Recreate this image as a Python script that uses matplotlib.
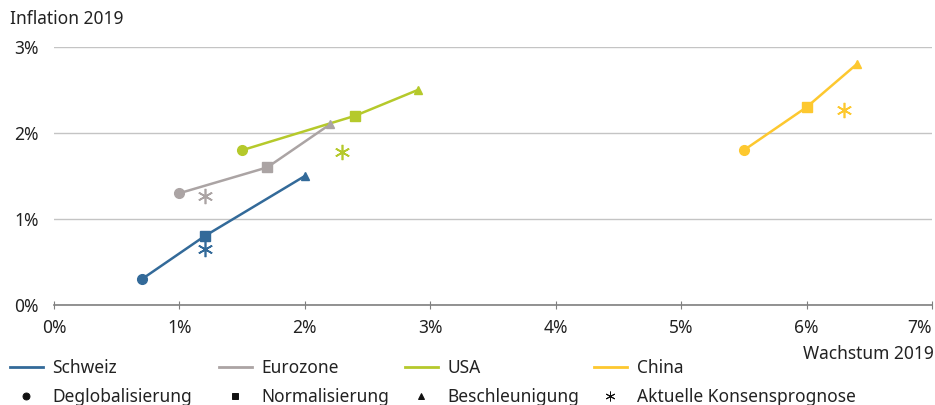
import matplotlib.pyplot as plt
from matplotlib.lines import Line2D

plt.rcParams['font.family'] = ['Noto Sans', 'DejaVu Sans']
plt.rcParams['font.size'] = 12.5

# Wachstum / Inflation 2019: Deglobalisierung, Normalisierung, Beschleunigung
regions = ['Schweiz', 'Eurozone', 'USA', 'China']
colors = ['#336a99', '#aba4a4', '#b5c92b', '#fdc82f']
growth = {
    'Schweiz': [0.7, 1.2, 2.0],
    'Eurozone': [1.0, 1.7, 2.2],
    'USA': [1.5, 2.4, 2.9],
    'China': [5.5, 6.0, 6.4],
}
inflation = {
    'Schweiz': [0.3, 0.8, 1.5],
    'Eurozone': [1.3, 1.6, 2.1],
    'USA': [1.8, 2.2, 2.5],
    'China': [1.8, 2.3, 2.8],
}
# Aktuelle Konsensprognose
cons_growth = [1.2, 1.2, 2.3, 6.3]
cons_infl = [0.65, 1.27, 1.78, 2.27]

scenarios = ['Deglobalisierung', 'Normalisierung', 'Beschleunigung', 'Aktuelle Konsensprognose']
markers = ['o', 's', '^', (6, 2, 0)]

fig = plt.figure(figsize=(9.35, 4.05), dpi=100)
ax = fig.add_axes([54 / 935, 1 - 305 / 405, (932 - 54) / 935, (305 - 47) / 405])

for i, r in enumerate(regions):
    c = colors[i]
    ax.plot(growth[r], inflation[r], color=c, lw=1.8, zorder=3)
    for j in range(3):
        ax.plot(growth[r][j], inflation[r][j], marker=markers[j], color=c,
                markersize=7 if j < 2 else 6, linestyle='none', zorder=4)
    ax.plot(cons_growth[i], cons_infl[i], marker=markers[3], color=c,
            markersize=11, markeredgewidth=1.2, linestyle='none', zorder=4)

ax.set_xlim(0, 7)
ax.set_ylim(0, 3)
ax.set_xticks(range(8))
ax.set_xticklabels([f'{v}%' for v in range(8)])
ax.set_yticks(range(4))
ax.set_yticklabels([f'{v}%' for v in range(4)])
ax.get_xticklabels()[-1].set_horizontalalignment('right')
ax.yaxis.grid(True, color='#c4c4c4', lw=1)
ax.set_axisbelow(True)
for s in ['top', 'right', 'left']:
    ax.spines[s].set_visible(False)
ax.spines['bottom'].set_color('#7f7f7f')
ax.spines['bottom'].set_linewidth(1.2)
ax.tick_params(axis='x', direction='inout', length=6, color='#7f7f7f', pad=7, labelcolor='#222222')
ax.tick_params(axis='y', length=0, pad=11, labelcolor='#222222')

fig.text(10 / 935, 1 - 19 / 405, 'Inflation 2019', ha='left', va='center', color='#222222')
fig.text(934 / 935, 1 - 354 / 405, 'Wachstum 2019', ha='right', va='center', color='#222222')

# legend: one column per region / scenario
col_x = [10, 219, 405, 594]
for i in range(4):
    h_line = Line2D([], [], color=colors[i], lw=2)
    ms = 5 if i < 3 else 7
    h_mark = Line2D([], [], color='#111111', marker=markers[i], linestyle='none',
                    markersize=ms, markeredgewidth=0.7)
    fig.legend(handles=[h_line, h_mark], labels=[regions[i], scenarios[i]],
               loc='upper left', bbox_to_anchor=(col_x[i] / 935, 1 - 359 / 405),
               frameon=False, handlelength=1.9, handletextpad=0.55,
               labelspacing=0.65, borderpad=0, borderaxespad=0,
               labelcolor='#222222')

fig.savefig('out.png', dpi=100)
